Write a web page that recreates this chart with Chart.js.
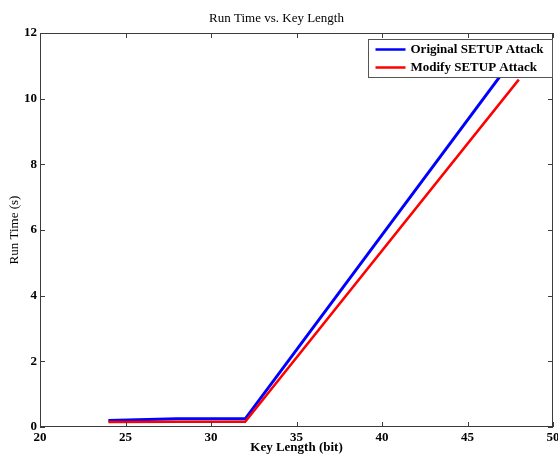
<!DOCTYPE html>
<html>
<head>
<meta charset="utf-8">
<script src="https://cdn.jsdelivr.net/npm/chart.js@4/dist/chart.umd.min.js"></script>
<style>
  body { margin: 0; background: #fff; }
</style>
</head>
<body>
<canvas id="chart" width="558" height="455"></canvas>
<script>
// key lengths (bit)
const keyLength = [24, 28, 32, 48];
// run times (s)
const originalSetup = [0.2, 0.25, 0.25, 11.45];
const modifySetup = [0.15, 0.16, 0.16, 10.58];

const xTicks = [20, 25, 30, 35, 40, 45, 50];
const yTicks = [0, 2, 4, 6, 8, 10, 12];

const serif = "'Liberation Serif', 'DejaVu Serif', serif";
const axisColor = "#3c3c3c";

const toPoints = (ys) => keyLength.map((x, i) => ({ x: x, y: ys[i] }));

// box, inward ticks on all four sides, legend inside top right
const framePlugin = {
  id: "frame",
  afterDatasetsDraw(chart) {
    const ctx = chart.ctx;
    const a = chart.chartArea;
    const xs = chart.scales.x, ys = chart.scales.y;
    ctx.save();
    ctx.strokeStyle = axisColor;
    ctx.lineWidth = 1;
    ctx.strokeRect(a.left + 0.5, a.top + 0.5, a.right - a.left - 1, a.bottom - a.top - 1);
    ctx.beginPath();
    xTicks.forEach(v => {
      const px = Math.round(xs.getPixelForValue(v)) + 0.5;
      ctx.moveTo(px, a.bottom); ctx.lineTo(px, a.bottom - 5);
      ctx.moveTo(px, a.top); ctx.lineTo(px, a.top + 5);
    });
    yTicks.forEach(v => {
      const py = Math.round(ys.getPixelForValue(v)) + 0.5;
      ctx.moveTo(a.left, py); ctx.lineTo(a.left + 5, py);
      ctx.moveTo(a.right, py); ctx.lineTo(a.right - 5, py);
    });
    ctx.stroke();

    // legend
    const bx = 368.5, by = 39.5, bw = 184, bh = 38;
    ctx.fillStyle = "#fff";
    ctx.fillRect(bx, by, bw, bh);
    ctx.strokeStyle = "#555";
    ctx.strokeRect(bx, by, bw, bh);
    ctx.font = "bold 13px " + serif;
    ctx.textBaseline = "middle";
    ctx.fillStyle = "#000";
    chart.data.datasets.forEach((ds, i) => {
      const y = by + 10 + i * 18;
      ctx.strokeStyle = ds.borderColor;
      ctx.lineWidth = 2.5;
      ctx.beginPath();
      ctx.moveTo(bx + 7, y); ctx.lineTo(bx + 37, y);
      ctx.stroke();
      ctx.fillText(ds.label, bx + 42, y);
    });
    ctx.restore();
  }
};

new Chart(document.getElementById("chart"), {
  type: "line",
  data: {
    datasets: [
      { label: "Original SETUP Attack", data: toPoints(originalSetup), borderColor: "#0000ff", borderWidth: 3, order: 1 },
      { label: "Modify SETUP Attack", data: toPoints(modifySetup), borderColor: "#ff0000", borderWidth: 2.5, order: 0 }
    ]
  },
  options: {
    responsive: false,
    devicePixelRatio: 1,
    animation: false,
    layout: { padding: { top: 0, right: 5, left: 0, bottom: 0 } },
    elements: { point: { radius: 0 }, line: { tension: 0 } },
    plugins: {
      legend: { display: false },
      tooltip: { enabled: false },
      title: {
        display: true,
        text: "Run Time vs. Key Length",
        color: "#000",
        font: { family: serif, size: 13, weight: "normal" },
        padding: { top: 11, bottom: 6.4 }
      }
    },
    scales: {
      x: {
        type: "linear",
        min: 20, max: 50,
        afterBuildTicks: (s) => { s.ticks = xTicks.map(v => ({ value: v })); },
        afterFit: (s) => { s.height = 28; s.paddingLeft = 0; s.paddingRight = 0; },
        grid: { display: false },
        border: { display: false },
        ticks: { color: "#000", padding: -5, maxRotation: 0, font: { family: serif, size: 13, weight: "bold" } },
        title: { display: true, text: "Key Length (bit)", color: "#000", padding: { top: -1.5, bottom: 0 }, font: { family: serif, size: 13, weight: "bold" } }
      },
      y: {
        min: 0, max: 12,
        afterBuildTicks: (s) => { s.ticks = yTicks.map(v => ({ value: v })); },
        afterFit: (s) => { s.width = 40; s.paddingTop = 0; s.paddingBottom = 0; },
        grid: { display: false },
        border: { display: false },
        ticks: { color: "#000", padding: -5, font: { family: serif, size: 13, weight: "bold" } },
        title: { display: true, text: "Run Time (s)", color: "#000", padding: { top: 7, bottom: 0 }, font: { family: serif, size: 13, weight: "normal" } }
      }
    }
  },
  plugins: [framePlugin]
});
</script>
</body>
</html>
